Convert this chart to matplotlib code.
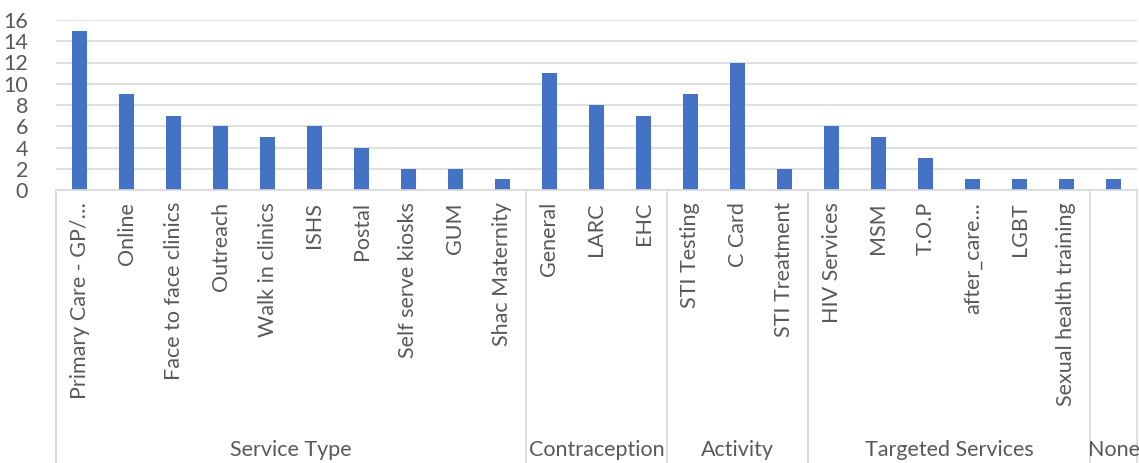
import matplotlib.pyplot as plt
from matplotlib.transforms import blended_transform_factory

plt.rcParams['font.family'] = ['Lato', 'DejaVu Sans']

# Data
groups = ['Service Type', 'Contraception', 'Activity', 'Targeted Services', 'None']
group_labels = [
    ['Primary Care - GP/…', 'Online', 'Face to face clinics', 'Outreach', 'Walk in clinics',
     'ISHS', 'Postal', 'Self serve kiosks', 'GUM', 'Shac Maternity'],
    ['General', 'LARC', 'EHC'],
    ['STI Testing', 'C Card', 'STI Treatment'],
    ['HIV Services', 'MSM', 'T.O.P', 'after_care…', 'LGBT', 'Sexual health training'],
    [''],
]
group_values = [
    [15, 9, 7, 6, 5, 6, 4, 2, 2, 1],
    [11, 8, 7],
    [9, 12, 2],
    [6, 5, 3, 1, 1, 1],
    [1],
]

labels = [lab for g in group_labels for lab in g]
values = [v for g in group_values for v in g]
x = list(range(len(values)))

text_color = '#595959'
line_color = '#d9d9d9'
fs = 15.5

fig = plt.figure(figsize=(11.39, 4.63), dpi=100)
ax = fig.add_axes([56 / 1139, 1 - 190 / 463, 1081 / 1139, 170 / 463])

ax.bar(x, values, width=0.33, color='#4472c4', zorder=2)
ax.set_xlim(-0.5, len(values) - 0.5)
ax.set_ylim(0, 16)
ax.set_yticks(range(0, 17, 2))
ax.tick_params(axis='y', length=0, pad=20, labelsize=fs, labelcolor=text_color)
ax.set_xticks([])
ax.grid(axis='y', color=line_color, linewidth=1.2, zorder=1)
for side in ['left', 'right', 'top']:
    ax.spines[side].set_visible(False)
ax.spines['bottom'].set_color(line_color)
ax.spines['bottom'].set_linewidth(1.2)

# Two-level category axis below the bars
trans = blended_transform_factory(ax.transData, ax.transAxes)
axes_h = 170
for xi, lab in zip(x, labels):
    ax.text(xi, -12 / axes_h, lab, transform=trans, rotation=90, ha='center', va='top',
            fontsize=fs, color=text_color, clip_on=False)

start = 0
bottom = -(463 - 190) / axes_h
for name, vals in zip(groups, group_values):
    end = start + len(vals)
    ax.plot([start - 0.5, start - 0.5], [0, bottom], transform=trans, color=line_color,
            linewidth=1.2, clip_on=False)
    ax.text((start + end - 1) / 2, -(450 - 190) / axes_h, name, transform=trans,
            ha='center', va='center', fontsize=fs, color=text_color, clip_on=False)
    start = end
ax.plot([start - 0.5, start - 0.5], [0, bottom], transform=trans, color=line_color,
        linewidth=1.2, clip_on=False)

fig.savefig('out.png', dpi=100)
